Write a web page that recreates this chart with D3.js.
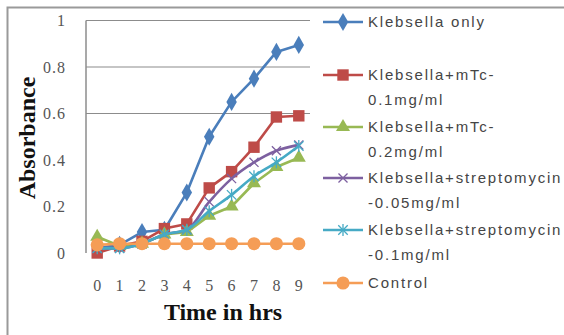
<!DOCTYPE html>
<html>
<head>
<meta charset="utf-8">
<script src="https://cdn.jsdelivr.net/npm/d3@7"></script>
<style>
  html, body { margin: 0; padding: 0; background: #fff; }
</style>
</head>
<body>
<script>
// categories (hours)
const hours = ["0", "1", "2", "3", "4", "5", "6", "7", "8", "9"];

// absorbance
const klebsOnly   = [0.02, 0.035, 0.09, 0.10, 0.26, 0.50, 0.65, 0.75, 0.865, 0.895];
const mtc01       = [0.00, 0.03, 0.05, 0.105, 0.125, 0.28, 0.35, 0.455, 0.585, 0.59];
const mtc02       = [0.07, 0.03, 0.04, 0.08, 0.09, 0.16, 0.20, 0.30, 0.37, 0.41];
const strep005    = [0.02, 0.02, 0.04, 0.08, 0.10, 0.22, 0.32, 0.39, 0.44, 0.465];
const strep01     = [0.02, 0.02, 0.04, 0.08, 0.10, 0.18, 0.25, 0.33, 0.39, 0.46];
const control     = [0.035, 0.04, 0.04, 0.04, 0.04, 0.04, 0.04, 0.04, 0.04, 0.04];

const seriesNames = [
  ["Klebsella only"],
  ["Klebsella+mTc-", "0.1mg/ml"],
  ["Klebsella+mTc-", "0.2mg/ml"],
  ["Klebsella+streptomycin", "-0.05mg/ml"],
  ["Klebsella+streptomycin", "-0.1mg/ml"],
  ["Control"]
];
const yTicks = [0, 0.2, 0.4, 0.6, 0.8, 1];
const gridTicks = [0.6, 0.8, 1];

const colors = ["#4a7ebb", "#be4b48", "#98b954", "#7d60a0", "#46aac5", "#f59d56"];
const symbols = ["diamond", "square", "triangle", "x", "star", "circle"];
const values = [klebsOnly, mtc01, mtc02, strep005, strep01, control];

const width = 564, height = 335;
const svg = d3.select("body").append("svg")
  .attr("width", width).attr("height", height);

// outer frame
svg.append("rect")
  .attr("x", 7.5).attr("y", 7.5)
  .attr("width", 620).attr("height", 400)
  .attr("fill", "none").attr("stroke", "#9a9a9a").attr("stroke-width", 2);

const x = d3.scalePoint().domain(hours).range([86, 310]).padding(0.5);
const y = d3.scaleLinear().domain([0, 1]).range([253, 20.5]);

// gridlines
svg.append("g").selectAll("line").data(gridTicks).join("line")
  .attr("x1", 86).attr("x2", 310)
  .attr("y1", d => y(d)).attr("y2", d => y(d))
  .attr("stroke", "#8c8c8c").attr("stroke-width", 1.2);

// y axis line
svg.append("line")
  .attr("x1", 86).attr("x2", 86).attr("y1", y(1)).attr("y2", y(0))
  .attr("stroke", "#8c8c8c").attr("stroke-width", 1.5);

// tick labels
svg.append("g").selectAll("text").data(yTicks).join("text")
  .attr("x", 66).attr("y", d => y(d)).attr("dy", "0.35em")
  .attr("text-anchor", "end")
  .attr("font-family", "Liberation Serif, serif").attr("font-size", 16)
  .attr("letter-spacing", 1)
  .attr("fill", "#555")
  .text(d => d3.format("")(d));

svg.append("g").selectAll("text").data(hours).join("text")
  .attr("x", d => x(d)).attr("y", 285).attr("dy", "0.35em")
  .attr("text-anchor", "middle")
  .attr("font-family", "Liberation Serif, serif").attr("font-size", 16)
  .attr("fill", "#555")
  .text(d => d);

// axis titles
svg.append("text")
  .attr("transform", "translate(35,138) rotate(-90)")
  .attr("text-anchor", "middle")
  .attr("font-family", "Liberation Serif, serif").attr("font-weight", "bold")
  .attr("font-size", 24).attr("fill", "#111")
  .text("Absorbance");

svg.append("text")
  .attr("x", 223).attr("y", 320)
  .attr("text-anchor", "middle")
  .attr("font-family", "Liberation Serif, serif").attr("font-weight", "bold")
  .attr("font-size", 24).attr("fill", "#111")
  .text("Time in hrs");

const symbolType = {
  diamond: d3.symbolDiamond, square: d3.symbolSquare, triangle: d3.symbolTriangle,
  x: d3.symbolTimes, circle: d3.symbolCircle
};
const symbolSize = { diamond: 95, square: 130, triangle: 85, x: 55, star: 0, circle: 135 };

function drawMarker(g, kind, color) {
  if (kind === "star") {
    g.append("path")
      .attr("d", d3.symbol(d3.symbolTimes, 60)())
      .attr("fill", "none").attr("stroke", color).attr("stroke-width", 1.3);
    g.append("line").attr("x1", 0).attr("x2", 0).attr("y1", -6).attr("y2", 6)
      .attr("stroke", color).attr("stroke-width", 1.3);
  } else if (kind === "x") {
    g.append("path")
      .attr("d", d3.symbol(symbolType.x, symbolSize.x)())
      .attr("fill", "none").attr("stroke", color).attr("stroke-width", 1.3);
  } else {
    g.append("path")
      .attr("d", d3.symbol(symbolType[kind], symbolSize[kind])())
      .attr("fill", color);
  }
}

const line = d3.line().x((d, i) => x(hours[i])).y(d => y(d));
const lineSmooth = d3.line().x((d, i) => x(hours[i])).y(d => y(d)).curve(d3.curveMonotoneX);

// series, control drawn last so its circles sit on top
values.forEach((vals, si) => {
  const g = svg.append("g");
  g.append("path")
    .attr("d", (si === 3 || si === 4) ? lineSmooth(vals) : line(vals))
    .attr("fill", "none").attr("stroke", colors[si]).attr("stroke-width", 2.6)
    .attr("stroke-linejoin", "round");
  vals.forEach((v, i) => {
    const m = g.append("g").attr("transform", `translate(${x(hours[i])},${y(v)})`);
    drawMarker(m, symbols[si], colors[si]);
  });
});

// legend
const legendY = [22, 75, 127, 178, 230, 283];
const legend = svg.append("g");
seriesNames.forEach((lines, si) => {
  const ly = legendY[si];
  legend.append("line")
    .attr("x1", 323).attr("x2", 363).attr("y1", ly).attr("y2", ly)
    .attr("stroke", colors[si]).attr("stroke-width", 2.6);
  const m = legend.append("g").attr("transform", `translate(343,${ly})`);
  drawMarker(m, symbols[si], colors[si]);
  lines.forEach((t, li) => {
    legend.append("text")
      .attr("x", 368).attr("y", ly + li * 24.5).attr("dy", "0.35em")
      .attr("font-family", "Liberation Sans, Arial, sans-serif")
      .attr("font-size", 15).attr("letter-spacing", 1.8)
      .attr("fill", "#454545")
      .text(t);
  });
});
</script>
</body>
</html>
